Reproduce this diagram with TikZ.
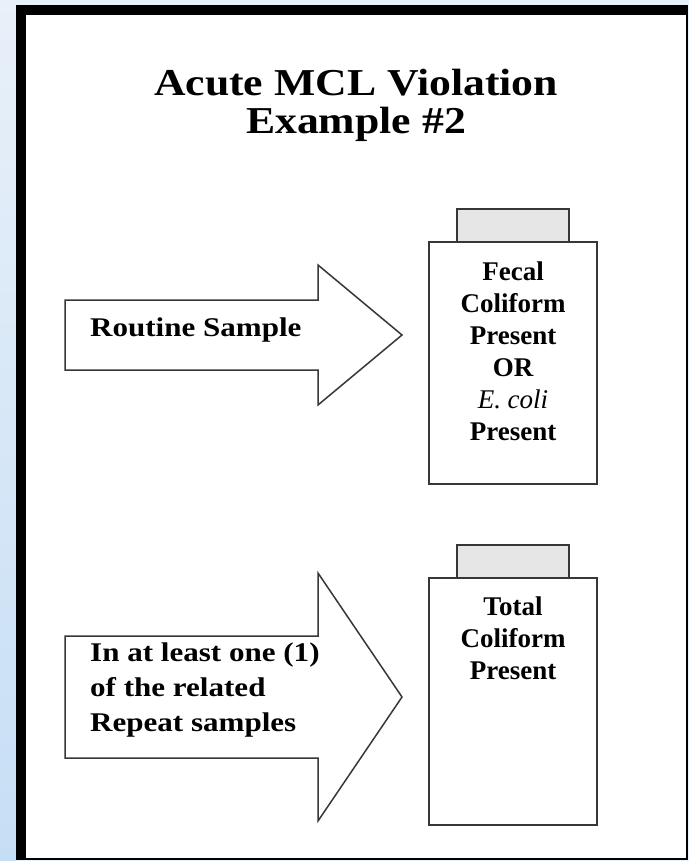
\documentclass[tikz,border=0pt]{standalone}
\usepackage{fontspec}
\setmainfont{Liberation Serif}
\newfontfamily\widefont[FakeStretch=1.15]{Liberation Serif}
\usepackage{xcolor}
\usepackage{tikz}
\usetikzlibrary{positioning}
\definecolor{bgblue}{RGB}{198,222,245}
\definecolor{bgpale}{RGB}{232,240,249}
\definecolor{capgray}{RGB}{230,230,230}
\definecolor{edge}{RGB}{55,55,55}
\tikzstyle{jar} = [draw=edge, line width=1.6pt, fill=white,
	minimum width = 168pt,
	inner sep=0pt, outer sep=0pt]
\tikzstyle{lid} = [draw=edge, line width=1.6pt, fill=capgray,
	minimum width = 112pt,
	minimum height = 33pt,
	inner sep=0pt, outer sep=0pt]
\tikzstyle{jartext} = [font=\bfseries\fontsize{27}{32}\selectfont, align=center, inner sep=0pt]
\tikzstyle{arrowtext} = [font=\widefont\bfseries\fontsize{27}{35}\selectfont, align=left, inner sep=0pt]
% #1 centre y, #2 half shaft, #3 half head
\newcommand{\drawbigarrow}[3]{\draw[draw=edge, line width=1.5pt, fill=white, line join=miter]
	(65,#1-#2) -- (318,#1-#2) -- (318,#1-#3) -- (402,#1)
	-- (318,#1+#3) -- (318,#1+#2) -- (65,#1+#2) -- cycle}

\begin{document}
\begin{tikzpicture}[x=1pt, y=-1pt]
			\useasboundingbox (0,0) rectangle (689,861);
			\fill[bgpale] (0,0) rectangle (689,861);
			\shade[top color=bgpale, bottom color=bgblue] (0,0) rectangle (16,861);
			\fill[black] (16,5) rectangle (688,860);
			\fill[white] (26,15) rectangle (686,858);
			
			\node (title)[font=\widefont\bfseries\fontsize{38}{38}\selectfont, align=center, inner sep=0pt, anchor=north] at (356,69) {Acute MCL Violation\\Example \#2};
			
			\drawbigarrow{335}{35}{70};
			\node (routine)[arrowtext, anchor=base west] at (90,336) {Routine Sample};
			
			\node (jar1)[jar, minimum height=242pt] at (513,363) {};
			\node (lid1)[lid, above=0pt of jar1] {};
			\node (jar1text)[jartext, below=20pt of jar1.north] {Fecal\\Coliform\\Present\\OR\\{\mdseries\itshape E. coli}\\Present};
			
			\drawbigarrow{697}{61}{124};
			\node (repeat)[arrowtext, anchor=north west] at (90,643) {In at least one (1)\\of the related\\Repeat samples};
			
			\node (jar2)[jar, minimum height=247pt] at (513,701.5) {};
			\node (lid2)[lid, above=0pt of jar2] {};
			\node (jar2text)[jartext, below=19pt of jar2.north] {Total\\Coliform\\Present};
		\end{tikzpicture}
\end{document}
